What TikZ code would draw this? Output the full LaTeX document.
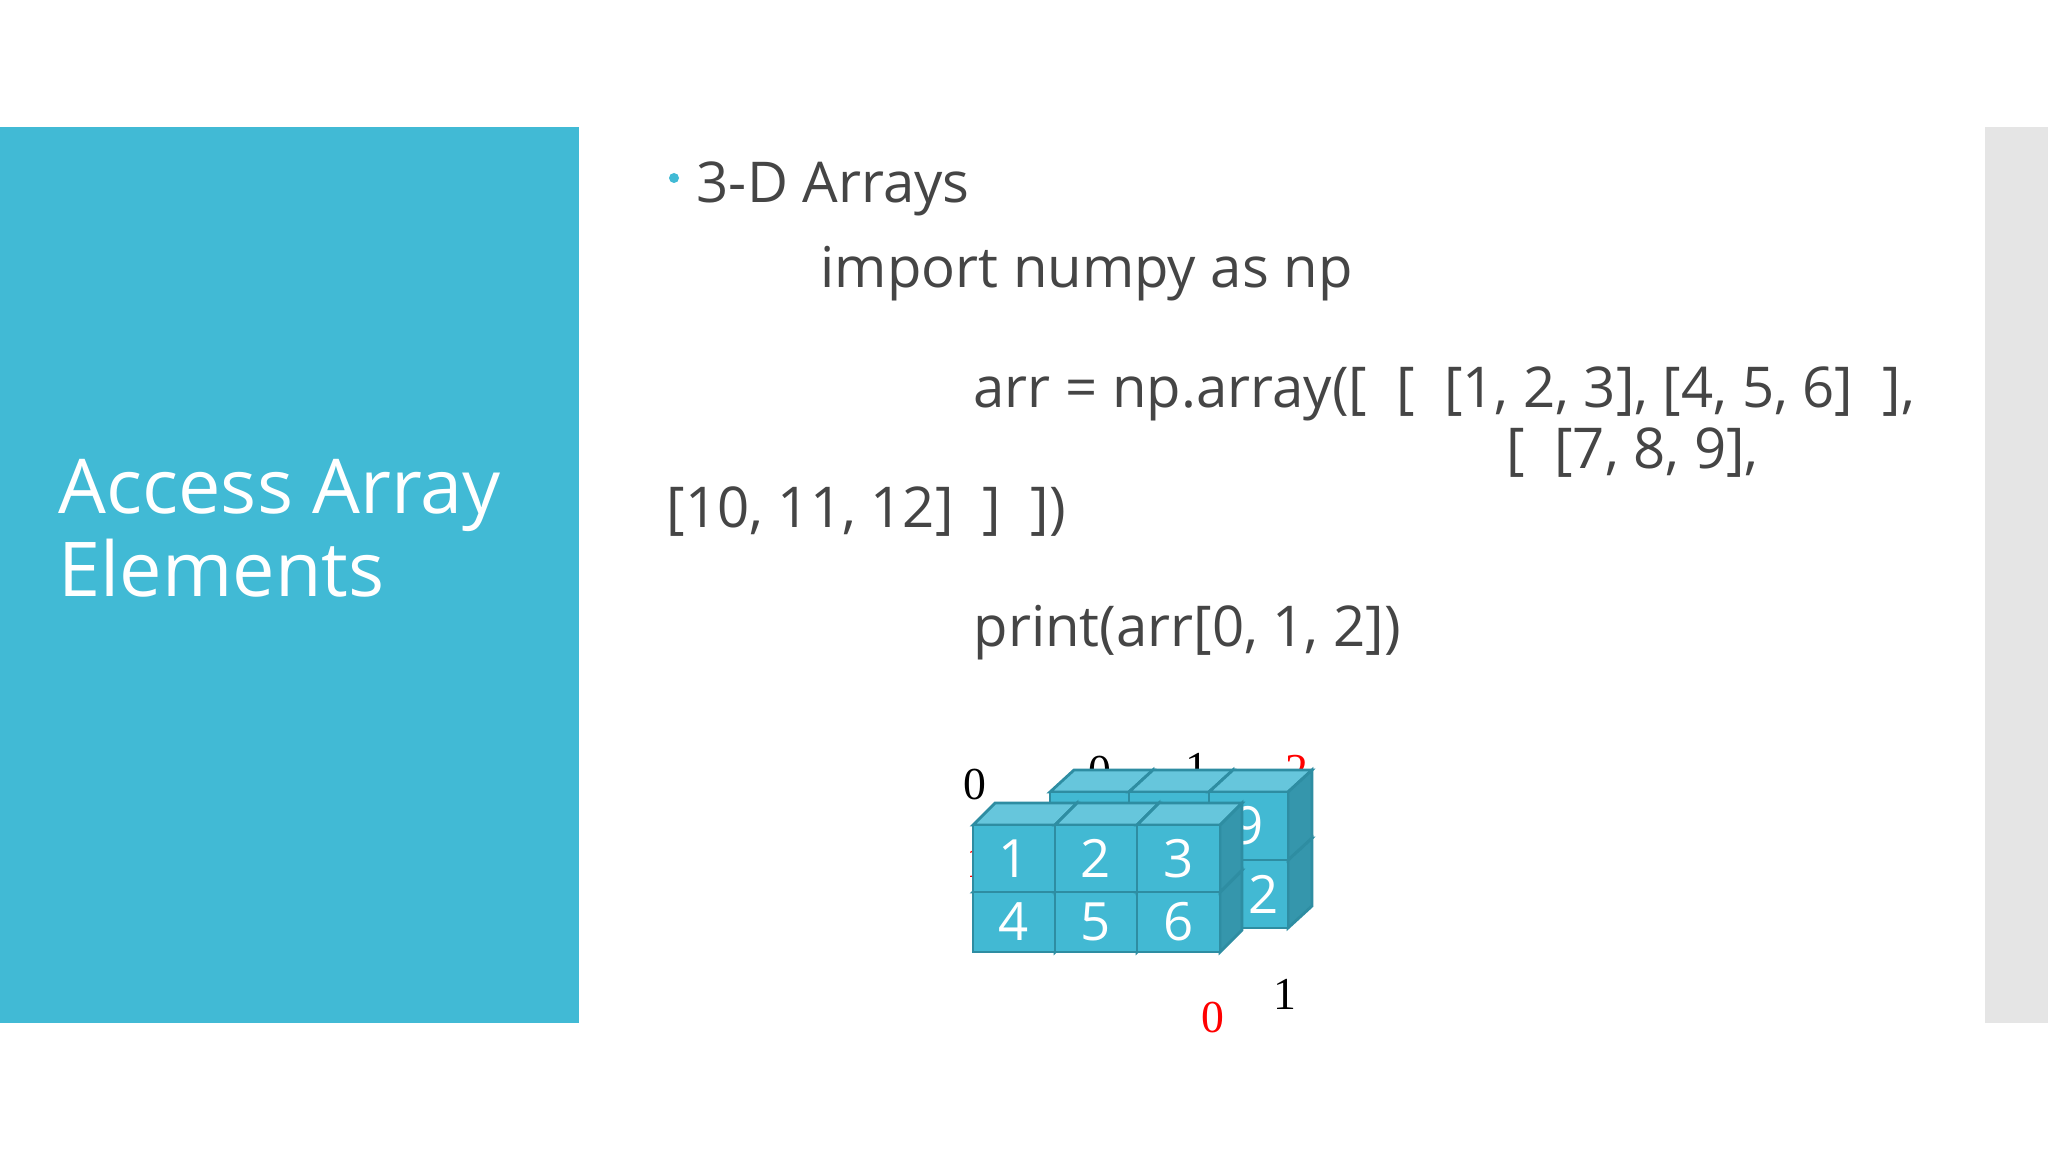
\documentclass[tikz,border=0pt]{standalone}
\usepackage{fontspec}
\setmainfont{Open Sans}
\newfontfamily\lbl{Liberation Serif}
\definecolor{teal}{HTML}{41BAD5}
\definecolor{cfront}{HTML}{42B9D3}
\definecolor{ctop}{HTML}{66C6DC}
\definecolor{cside}{HTML}{3596AC}
\definecolor{cedge}{HTML}{2E8DA2}
\definecolor{txt}{HTML}{454545}
\newcommand{\mycube}[7]{% x y w h dx dy label
  \filldraw[fill=ctop,draw=cedge,line width=0.8pt] (#1,#2) -- ++(#5,#6) -- ++(#3,0) -- ++(-#5,-#6) -- cycle;
  \filldraw[fill=cside,draw=cedge,line width=0.8pt] (#1+#3,#2) -- ++(#5,#6) -- ++(0,#4) -- ++(-#5,-#6) -- cycle;
  \filldraw[fill=cfront,draw=cedge,line width=0.8pt] (#1,#2) rectangle ++(#3,#4);
  \node[white,font=\fontsize{15}{15}\selectfont] at (#1+#3/2,#2+#4/2) {#7};}
\begin{document}
\begin{tikzpicture}[x=0.01cm,y=-0.01cm,
  body/.style={anchor=west,text=txt,font=\fontsize{16}{16}\selectfont,inner sep=0},
  ax/.style={font=\lbl\fontsize{13}{13}\selectfont,inner sep=0}]
\useasboundingbox (0,0) rectangle (2048,1152);
\fill[white] (0,0) rectangle (2048,1152);
\fill[teal] (0,127) rectangle (579,1023);
\fill[black!10] (1985,127) rectangle (2048,1023);
\node[anchor=west,white,align=left,inner sep=0,font=\fontsize{21.5}{23.5}\selectfont] (title) at (58,528) {Access Array\\Elements};
\fill[teal] (674,178) circle (5);
\node[body] (h) at (696,189) {3-D Arrays};
\node[body] (l1) at (820,274) {import numpy as np};
\node[body] (l2) at (973,394) {arr = np.array([\ \ [\ \ [1, 2, 3], [4, 5, 6]\ \ ],};
\node[body] (l3) at (1506,453) {[\ \ [7, 8, 9],};
\node[body] (l4) at (666,512) {[10, 11, 12]\ \ ]\ \ ])};
\node[body] (l5) at (973,633) {print(arr[0, 1, 2])};
% axis labels
\node[ax] (a0) at (975,785) {0};
\node[ax] (b0) at (1100,772) {0};
\node[ax] (b1) at (1197,768) {1};
\node[ax,red] (b2) at (1297,770) {2};
\node[ax,red] (c1) at (978,862) {1};
\node[ax,red] (d0) at (1213,1018) {0};
\node[ax] (d1) at (1285,994) {1};
% back cubes
\mycube{1050}{860}{79}{68}{24}{-22}{10}
\mycube{1129}{860}{80}{68}{24}{-22}{11}
\mycube{1209}{860}{79}{68}{24}{-22}{12}
\mycube{1050}{792}{79}{68}{24}{-22}{7}
\mycube{1129}{792}{80}{68}{24}{-22}{8}
\mycube{1209}{792}{79}{68}{24}{-22}{9}
% front cubes
\mycube{973}{892}{82}{60}{22}{-22}{4}
\mycube{1055}{892}{82}{60}{22}{-22}{5}
\mycube{1137}{892}{83}{60}{22}{-22}{6}
\mycube{973}{825}{82}{67}{22}{-22}{1}
\mycube{1055}{825}{82}{67}{22}{-22}{2}
\mycube{1137}{825}{83}{67}{22}{-22}{3}
\end{tikzpicture}
\end{document}
